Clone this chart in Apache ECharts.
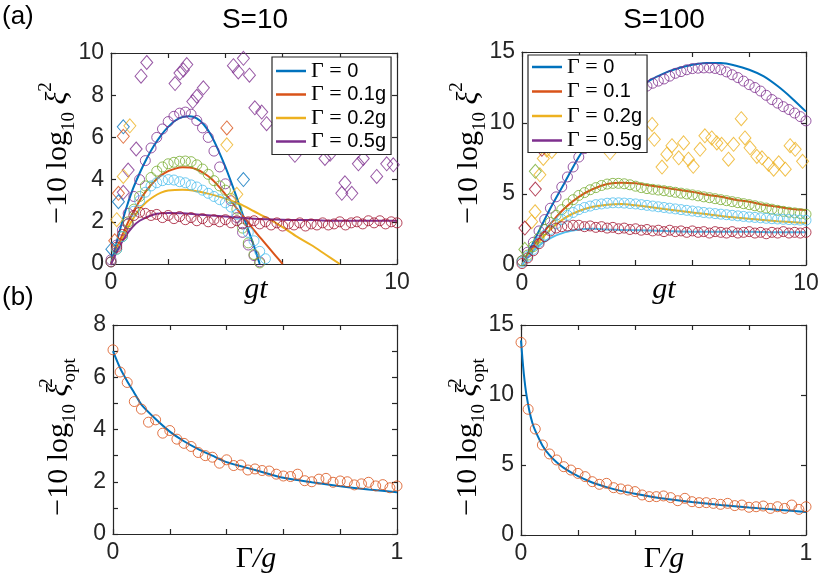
<!DOCTYPE html>
<html><head><meta charset="utf-8">
<script src="https://cdn.jsdelivr.net/npm/echarts@6/dist/echarts.min.js"></script>
<style>html,body{margin:0;padding:0;background:#fff}#c{width:830px;height:586px}</style>
</head><body><div id="c"></div>
<script>
// ---------- shared x values ----------
const GT_C = [0,0.2,0.4,0.6,0.8,1,1.2,1.4,1.6,1.8,2,2.2,2.4,2.6,2.8,3,3.2,3.4,3.6,3.8,4,4.2,4.4,4.6,4.8,5,5.2,5.4,5.6,5.8,6,6.2,6.4,6.6,6.8,7,7.2,7.4,7.6,7.8,8,8.2,8.4,8.6,8.8,9,9.2,9.4,9.6,9.8,10];
const GAMMA = [0,0.025,0.05,0.075,0.1,0.125,0.15,0.175,0.2,0.225,0.25,0.275,0.3,0.325,0.35,0.375,0.4,0.425,0.45,0.475,0.5,0.525,0.55,0.575,0.6,0.625,0.65,0.675,0.7,0.725,0.75,0.775,0.8,0.825,0.85,0.875,0.9,0.925,0.95,0.975,1];

// ---------- (a) S=10 ----------
const TL_G0 = [[0,0],[0.25,1.3],[0.5,2.5],[0.75,3.5],[1,4.3],[1.25,5.0],[1.5,5.6],[1.75,6.1],[2,6.5],[2.25,6.8],[2.5,6.97],[2.75,7.0],[3,6.9],[3.25,6.6],[3.5,6.1],[3.75,5.4],[4,4.6],[4.25,3.7],[4.5,2.75],[4.75,1.8],[5,0.85],[5.2,0]];
const TL_G1 = [[0,0],[0.25,0.9],[0.5,1.7],[0.75,2.4],[1,3.0],[1.25,3.5],[1.5,3.9],[1.75,4.2],[2,4.4],[2.25,4.52],[2.5,4.58],[2.75,4.57],[3,4.48],[3.25,4.3],[3.5,4.05],[3.75,3.7],[4,3.3],[4.25,2.9],[4.5,2.45],[4.75,2.05],[5,1.6],[5.25,1.2],[5.5,0.8],[5.75,0.4],[6,0]];
const TL_G2 = [[0,0],[0.25,0.8],[0.5,1.5],[0.75,2.1],[1,2.6],[1.25,2.95],[1.5,3.2],[1.75,3.38],[2,3.48],[2.5,3.52],[3,3.45],[3.5,3.3],[4,3.1],[4.5,2.85],[5,2.5],[5.5,2.15],[6,1.75],[6.5,1.3],[7,0.9],[7.5,0.45],[8,0]];
const TL_G3 = [[0,0],[0.25,0.7],[0.5,1.3],[0.75,1.75],[1,2.05],[1.5,2.35],[2,2.42],[2.5,2.4],[3,2.35],[4,2.25],[5,2.15],[6,2.1],[7,2.08],[8,2.05],[9,2.05],[10,2.05]];
const TL_CP = [0.2,0.9,1.6,2.4,3.2,4.0,4.9,5.5,6.0,6.4,6.75,7.0,7.15,7.2,7.1,6.8,6.45,6.0,5.35,4.6,3.8,3.0,2.2,1.5,0.9,0.4,0.1];
const TL_CG = [0.1,0.7,1.3,2.0,2.6,3.2,3.7,4.1,4.4,4.6,4.75,4.82,4.87,4.88,4.85,4.7,4.5,4.25,3.95,3.7,3.5,3.1,2.6,1.7,1.0,0.45,0.05];
const TL_CL = [0.1,0.7,1.3,1.9,2.5,3.0,3.4,3.7,3.85,3.95,4.0,3.98,3.9,3.85,3.75,3.65,3.5,3.35,3.2,3.05,2.9,2.7,2.35,1.9,1.5,1.1,0.6,0.25];
const TL_CR = [0.1,0.8,1.4,1.9,2.3,2.45,2.4,2.3,2.35,2.2,2.3,2.15,2.25,2.1,2.2,2.05,2.15,2.0,2.1,2.0,2.1,1.95,2.05,1.9,2.0,2.05,1.9,2.0,1.85,1.95,1.8,1.9,1.85,1.95,1.8,1.9,1.85,1.95,1.85,1.9,2.0,1.85,1.95,2.0,1.9,2.05,1.95,2.05,1.9,2.0,1.95];
const TL_DP = [[0.43,3.4],[0.6,4.45],[0.88,5.45],[1.05,8.9],[1.25,9.55],[2.24,8.55],[2.41,9.05],[2.53,9.2],[2.65,9.45],[2.86,7.7],[3.0,7.95],[3.23,8.35],[4.28,9.4],[4.45,9.1],[4.63,9.75],[4.84,8.95],[5.03,7.4],[5.27,7.2],[5.44,6.65],[6.43,5.15],[7.48,5.0],[7.66,5.2],[8.07,3.35],[8.18,3.85],[8.42,3.35],[8.65,4.75],[8.82,5.0],[9.29,4.15],[9.64,4.75],[9.87,4.7]];
const TL_DB = [[0.03,0.7],[0.26,2.95],[0.43,6.5],[4.63,4.0]];
const TL_DO = [[0.13,1.1],[0.26,3.35],[0.43,6.05],[4.05,6.45]];
const TL_DY = [[0.2,2.1],[0.43,4.15],[0.66,6.55],[4.05,5.65],[4.4,3.3]];

// ---------- (a) S=100 ----------
const TR_G0 = [[0,0],[0.5,2.0],[1,4.0],[1.5,5.8],[2,7.6],[2.5,9.1],[3,10.4],[3.5,11.4],[4,12.3],[4.5,13.0],[5,13.5],[5.5,13.85],[6,14.1],[6.5,14.22],[7,14.22],[7.5,14.05],[8,13.75],[8.5,13.3],[9,12.6],[9.5,11.75],[10,10.8]];
const TR_G1 = [[0,0],[0.5,1.6],[1,2.9],[1.5,4.0],[2,4.8],[2.5,5.35],[3,5.7],[3.5,5.8],[4,5.75],[4.5,5.6],[5,5.45],[5.5,5.3],[6,5.15],[6.5,4.95],[7,4.8],[7.5,4.6],[8,4.45],[8.5,4.25],[9,4.1],[9.5,3.95],[10,3.87]];
const TR_G2 = [[0,0],[0.5,1.4],[1,2.5],[1.5,3.3],[2,3.8],[2.5,4.1],[3,4.25],[3.5,4.3],[4,4.2],[5,3.95],[6,3.7],[7,3.45],[8,3.25],[9,3.08],[10,2.95]];
const TR_G3 = [[0,0],[0.5,1.2],[1,1.9],[1.5,2.3],[2,2.5],[2.5,2.55],[3,2.5],[4,2.45],[5,2.4],[6,2.35],[7,2.35],[8,2.35],[9,2.3],[10,2.3]];
const TR_CP = [0.3,0.9,1.6,2.4,3.2,4.0,4.8,5.5,6.2,6.9,7.6,8.2,8.8,9.3,9.8,10.3,10.7,11.1,11.5,11.85,12.15,12.4,12.6,12.8,12.95,13.1,13.3,13.5,13.62,13.75,13.83,13.86,13.88,13.88,13.84,13.75,13.6,13.4,13.2,12.95,12.7,12.5,12.25,11.95,11.65,11.4,11.15,10.95,10.7,10.45,10.15];
const TR_CG = [0.3,0.7,1.3,1.9,2.5,3.0,3.5,3.9,4.3,4.6,4.9,5.1,5.3,5.45,5.6,5.7,5.75,5.75,5.72,5.65,5.55,5.45,5.38,5.33,5.28,5.23,5.18,5.12,5.06,5.0,4.94,4.87,4.8,4.74,4.67,4.6,4.53,4.46,4.39,4.32,4.25,4.17,4.09,4.01,3.93,3.85,3.78,3.72,3.67,3.62,3.57];
const TR_CL = [0.2,0.6,1.1,1.6,2.1,2.5,2.9,3.2,3.5,3.7,3.9,4.05,4.15,4.25,4.3,4.35,4.38,4.38,4.36,4.33,4.3,4.25,4.2,4.15,4.1,4.05,4.0,3.95,3.9,3.85,3.8,3.75,3.7,3.66,3.62,3.58,3.54,3.5,3.46,3.42,3.38,3.35,3.32,3.29,3.26,3.24,3.22,3.2,3.18,3.16,3.15];
const TR_CR = [0.1,0.5,1.0,1.5,2.0,2.4,2.6,2.7,2.75,2.8,2.8,2.7,2.75,2.65,2.7,2.6,2.65,2.55,2.6,2.5,2.55,2.45,2.5,2.4,2.45,2.35,2.45,2.35,2.4,2.3,2.4,2.3,2.35,2.25,2.35,2.3,2.25,2.35,2.25,2.3,2.35,2.25,2.3,2.2,2.3,2.25,2.35,2.25,2.3,2.25,2.3];
const TR_DY = [[0.34,3.05],[0.46,3.75],[0.63,6.35],[0.75,7.5],[0.87,8.1],[1.05,8.0],[3.1,7.9],[4.58,9.9],[4.66,8.85],[4.93,6.9],[5.1,7.8],[5.28,8.4],[5.52,7.55],[5.69,8.6],[5.86,7.45],[6.03,6.95],[6.27,8.15],[6.44,9.1],[6.68,8.95],[6.86,8.6],[7.03,8.5],[7.27,7.45],[7.45,8.5],[7.72,10.3],[7.85,8.95],[8.03,8.25],[8.27,7.65],[8.45,7.55],[8.68,7.1],[8.86,6.75],[9.04,7.2],[9.27,6.75],[9.44,8.4],[9.62,8.15],[9.88,7.3]];
const TR_DG = [[0.1,1.1],[0.47,6.6]];
const TR_DR = [[0.1,2.6],[0.47,5.35],[0.7,8.15]];

// ---------- (b) ----------
const BL_FIT = [[0,7.0],[0.025,6.35],[0.05,5.85],[0.075,5.4],[0.1,4.95],[0.15,4.4],[0.2,3.92],[0.25,3.55],[0.3,3.25],[0.35,3.0],[0.4,2.75],[0.5,2.45],[0.6,2.15],[0.7,1.98],[0.8,1.83],[0.9,1.7],[1.0,1.6]];
const BL_C = [7.05,6.2,5.8,5.07,4.78,4.28,4.37,3.86,3.96,3.63,3.47,3.35,3.12,3.0,2.94,2.71,2.84,2.62,2.64,2.45,2.49,2.43,2.41,2.29,2.22,2.2,2.29,2.04,2.0,2.1,2.13,1.98,2.03,2.0,1.88,1.92,1.98,1.84,1.89,1.77,1.84];
const BR_FIT = [[0,13.9],[0.005,12.6],[0.01,11.5],[0.015,10.6],[0.02,9.9],[0.03,8.8],[0.04,8.0],[0.05,7.45],[0.075,6.4],[0.1,5.7],[0.125,5.2],[0.15,4.8],[0.2,4.2],[0.25,3.75],[0.3,3.42],[0.35,3.15],[0.4,2.95],[0.5,2.6],[0.6,2.35],[0.7,2.15],[0.8,1.97],[0.9,1.8],[1.0,1.65]];
const BR_C = [13.76,8.98,7.57,6.43,5.79,5.36,4.88,4.64,4.4,4.17,3.81,3.62,3.69,3.38,3.29,3.21,3.1,2.86,2.74,2.74,2.79,2.67,2.45,2.62,2.38,2.31,2.31,2.26,2.19,2.26,2.1,2.14,1.98,2.02,2.07,1.9,2.02,1.9,2.14,1.83,2.02];

// ---------- styling ----------
const C = {blue:'#0072BD', orange:'#D95319', yellow:'#EDB120', purple:'#7E2F8E', green:'#77AC30', lblue:'#4DBEEE', dred:'#A2142F'};
const AX = '#262626';
const SANS = 'Liberation Sans, Arial, Helvetica, sans-serif';
const SERIF = 'Liberation Serif, Times New Roman, DejaVu Serif, serif';

const zip = (xs, ys) => ys.map((y, i) => [xs[i], y]);

function xAx(g, min, max, interval, pos, labels) {
  return {type:'value', gridIndex:g, min, max, interval, position:pos,
    axisLine:{show:true, onZero:false, lineStyle:{color:AX, width:1.2}},
    axisTick:{show:true, inside:true, length:5, lineStyle:{color:AX, width:1.2}},
    splitLine:{show:false},
    axisLabel:{show:labels, margin:7, color:AX, fontSize:23, fontFamily:SANS,
      formatter:v => (Math.abs(v-min)<1e-9 || Math.abs(v-max)<1e-9) ? String(Math.round(v)) : ''}};
}
function yAx(g, min, max, interval, pos, labels, every) {
  return {type:'value', gridIndex:g, min, max, interval, position:pos,
    axisLine:{show:true, onZero:false, lineStyle:{color:AX, width:1.2}},
    axisTick:{show:true, inside:true, length:5, lineStyle:{color:AX, width:1.2}},
    splitLine:{show:false},
    axisLabel:{show:labels, margin:7, color:AX, fontSize:23, fontFamily:SANS,
      formatter:v => (Math.round(v) % every === 0) ? String(Math.round(v)) : ''}};
}
function line(name, data, color, ai) {
  return {type:'line', name, data, xAxisIndex:ai, yAxisIndex:ai, symbol:'none', showSymbol:false,
    smooth:0.3, lineStyle:{color, width:2}, itemStyle:{color}, z:2, silent:true, animation:false};
}
function marks(data, color, ai, symbol, size) {
  return {type:'scatter', data, xAxisIndex:ai, yAxisIndex:ai, symbol, symbolSize:size,
    itemStyle:{color:'rgba(0,0,0,0)', borderColor:color, borderWidth:1}, z:3, silent:true, animation:false};
}
const CIR = 10, DIA = [12,14];

const series = [
  // top-left
  line('Γ = 0', TL_G0, C.blue, 0),
  line('Γ = 0.1g', TL_G1, C.orange, 0),
  line('Γ = 0.2g', TL_G2, C.yellow, 0),
  line('Γ = 0.5g', TL_G3, C.purple, 0),
  marks(zip(GT_C, TL_CP), C.purple, 0, 'circle', CIR),
  marks(zip(GT_C, TL_CG), C.green, 0, 'circle', CIR),
  marks(zip(GT_C, TL_CL), C.lblue, 0, 'circle', CIR),
  marks(zip(GT_C, TL_CR), C.dred, 0, 'circle', CIR),
  marks(TL_DP, C.purple, 0, 'diamond', DIA),
  marks(TL_DB, C.blue, 0, 'diamond', DIA),
  marks(TL_DO, C.orange, 0, 'diamond', DIA),
  marks(TL_DY, C.yellow, 0, 'diamond', DIA),
  // top-right
  line('Γ = 0 ', TR_G0, C.blue, 1),
  line('Γ = 0.1 ', TR_G1, C.orange, 1),
  line('Γ = 0.2g ', TR_G2, C.yellow, 1),
  line('Γ = 0.5g ', TR_G3, C.lblue, 1),
  marks(zip(GT_C, TR_CP), C.purple, 1, 'circle', CIR),
  marks(zip(GT_C, TR_CG), C.green, 1, 'circle', CIR),
  marks(zip(GT_C, TR_CL), C.lblue, 1, 'circle', CIR),
  marks(zip(GT_C, TR_CR), C.dred, 1, 'circle', CIR),
  marks(TR_DY, C.yellow, 1, 'diamond', DIA),
  marks(TR_DG, C.green, 1, 'diamond', DIA),
  marks(TR_DR, C.dred, 1, 'diamond', DIA),
  // bottom
  Object.assign(line('fitL', BL_FIT, C.blue, 2), {smooth:0.2}),
  marks(zip(GAMMA, BL_C), C.orange, 2, 'circle', 10),
  Object.assign(line('fitR', BR_FIT, C.blue, 3), {smooth:0.2}),
  marks(zip(GAMMA, BR_C), C.orange, 3, 'circle', 10)
];

const legRich = {
  s:{fontFamily:SERIF, fontSize:22, lineHeight:21, color:'#000'},
  n:{fontFamily:SANS, fontSize:20, lineHeight:21, color:'#000'}
};
const legFmt = name => '{s|Γ = }{n|' + name.trim().replace('Γ = ', '') + '}';
function legend(left, top, data, gap, padding) {
  return {show:true, orient:'vertical', left, top, data, itemGap:gap, itemWidth:30, itemHeight:2.5,
    icon:'rect', padding, backgroundColor:'#fff', borderColor:AX, borderWidth:1.2, borderRadius:0,
    selectedMode:false, formatter:legFmt, textStyle:{rich:legRich, lineHeight:21, padding:[0,0,0,0]}};
}

// y axis titles
const yRich = {
  m:{fontFamily:SERIF, fontSize:30, lineHeight:42, color:'#000'},
  i:{fontFamily:SERIF, fontStyle:'italic', fontSize:30, lineHeight:42, color:'#000'},
  s:{fontFamily:SERIF, fontSize:19, lineHeight:19, verticalAlign:'bottom', color:'#000'},
  p:{fontFamily:SERIF, fontSize:19, lineHeight:25, verticalAlign:'top', color:'#000'},
  pw:{fontFamily:SERIF, fontSize:19, lineHeight:25, verticalAlign:'top', width:1, color:'#000'}
};
function yTitle(x, y, opt) {
  const t = '{m|−10 log}{s|10}{i| ξ}' + (opt ? '{pw|2}{s|opt}' : '{p|2}');
  return {type:'text', x, y, rotation:Math.PI/2, silent:true,
    style:{text:t, rich:yRich, align:'center', verticalAlign:'middle'}};
}
function txt(x, y, text, size, align) {
  return {type:'text', x, y, silent:true,
    style:{text, fontSize:size, fontFamily:SANS, fill:'#000', align:align||'center', verticalAlign:'middle'}};
}
const xRich = {
  i:{fontFamily:SERIF, fontStyle:'italic', fontSize:30, color:'#000'},
  u:{fontFamily:SERIF, fontSize:30, color:'#000'}
};
function xTitle(x, y, t) {
  return {type:'text', x, y, silent:true, style:{text:t, rich:xRich, align:'center', verticalAlign:'middle'}};
}

const option = {
  backgroundColor:'#fff',
  animation:false,
  grid:[
    {left:111, top:53, width:286, height:211, outerBoundsMode:'none'},
    {left:522, top:52, width:284, height:213, outerBoundsMode:'none'},
    {left:113, top:325, width:284, height:209, outerBoundsMode:'none'},
    {left:521, top:325, width:285, height:210, outerBoundsMode:'none'}
  ],
  xAxis:[
    xAx(0,0,10,2,'bottom',true), xAx(1,0,10,2,'bottom',true),
    xAx(2,0,1,0.2,'bottom',true), xAx(3,0,1,0.2,'bottom',true),
    xAx(0,0,10,2,'top',false), xAx(1,0,10,2,'top',false),
    xAx(2,0,1,0.2,'top',false), xAx(3,0,1,0.2,'top',false)
  ],
  yAxis:[
    yAx(0,0,10,2,'left',true,2), yAx(1,0,15,5,'left',true,5),
    yAx(2,0,8,1,'left',true,2), yAx(3,0,15,5,'left',true,5),
    yAx(0,0,10,2,'right',false,2), yAx(1,0,15,5,'right',false,5),
    yAx(2,0,8,1,'right',false,2), yAx(3,0,15,5,'right',false,5)
  ],
  legend:[
    legend(272, 57, ['Γ = 0','Γ = 0.1g','Γ = 0.2g','Γ = 0.5g'], 1.5, [3,5,2,4]),
    legend(528, 55, ['Γ = 0 ','Γ = 0.1 ','Γ = 0.2g ',
      {name:'Γ = 0.5g ', itemStyle:{color:C.purple}, lineStyle:{color:C.purple}}], 2.5, [1,5,1,4])
  ],
  graphic:[
    txt(2, 17, '(a)', 26, 'left'),
    txt(2, 298, '(b)', 26, 'left'),
    txt(255, 20, 'S=10', 28),
    txt(664, 20, 'S=100', 28),
    yTitle(58, 153, false),
    yTitle(469, 153, false),
    yTitle(59, 437, true),
    yTitle(468, 437, true),
    xTitle(256, 290, '{i|gt}'),
    xTitle(664, 290, '{i|gt}'),
    xTitle(256, 559, '{u|Γ}{i|/g}'),
    xTitle(664, 559, '{u|Γ}{i|/g}')
  ],
  series
};
const chart = echarts.init(document.getElementById('c'), null, {renderer:'canvas'});
chart.setOption(option);
</script>
</body></html>
